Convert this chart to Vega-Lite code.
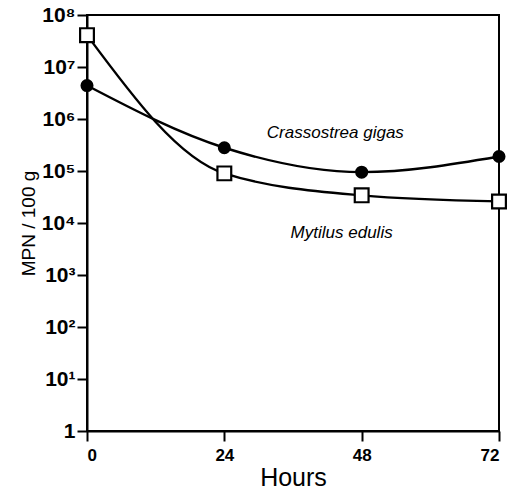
{
  "$schema": "https://vega.github.io/schema/vega-lite/v6.json",
  "autosize": {"type": "none"},
  "width": 412,
  "height": 416,
  "padding": {"left": 87, "top": 15, "right": 21, "bottom": 68},
  "background": "white",
  "view": {"stroke": "black", "strokeWidth": 2},
  "config": {
    "font": "Liberation Sans",
    "axis": {
      "domainColor": "black", "domainWidth": 2, "tickColor": "black", "tickWidth": 2,
      "tickSize": 10, "labelColor": "black", "titleColor": "black", "grid": false,
      "labelFont": "Liberation Sans", "titleFont": "Liberation Sans", "titleFontWeight": "normal"
    }
  },
  "datasets": {
    "series": [
      {"species": "Mytilus edulis", "hours": 0, "mpn": 41000000},
      {"species": "Mytilus edulis", "hours": 24, "mpn": 90000},
      {"species": "Mytilus edulis", "hours": 48, "mpn": 34000},
      {"species": "Mytilus edulis", "hours": 72, "mpn": 26000},
      {"species": "Crassostrea gigas", "hours": 0, "mpn": 4400000},
      {"species": "Crassostrea gigas", "hours": 24, "mpn": 280000},
      {"species": "Crassostrea gigas", "hours": 48, "mpn": 95000},
      {"species": "Crassostrea gigas", "hours": 72, "mpn": 190000}
    ],
    "labels": [
      {"species": "Crassostrea gigas", "hours": 43.4, "mpn": 540000},
      {"species": "Mytilus edulis", "hours": 44.5, "mpn": 6500}
    ]
  },
  "layer": [
    {
      "data": {"name": "series"},
      "mark": {"type": "line", "interpolate": "monotone", "color": "black", "strokeWidth": 2.4, "clip": false},
      "encoding": {
        "x": {"field": "hours", "type": "quantitative",
          "scale": {"domain": [0, 72], "nice": false},
          "axis": {"values": [0, 24, 48, 72], "title": "Hours", "titleFontSize": 25, "labelFontSize": 17, "labelFontWeight": "bold", "labelPadding": 6, "titlePadding": 2}},
        "y": {"field": "mpn", "type": "quantitative",
          "scale": {"type": "log", "domain": [1, 100000000], "nice": false},
          "axis": {"values": [1, 10, 100, 1000, 10000, 100000, 1000000, 10000000, 100000000],
            "labelExpr": "datum.value == 1 ? '1' : '10' + ['','¹','²','³','⁴','⁵','⁶','⁷','⁸'][round(log(datum.value)/LN10)]",
            "title": "MPN / 100 g", "titleFontSize": 19, "labelFontSize": 21, "labelFontWeight": "bold", "labelPadding": 2, "titlePadding": 3}},
        "detail": {"field": "species"}
      }
    },
    {
      "data": {"name": "series"},
      "transform": [{"filter": "datum.species == 'Mytilus edulis'"}],
      "mark": {"type": "point", "shape": "square", "size": 190, "filled": true, "fill": "white", "stroke": "black", "strokeWidth": 2.2, "opacity": 1, "clip": false},
      "encoding": {
        "x": {"field": "hours", "type": "quantitative"},
        "y": {"field": "mpn", "type": "quantitative"}
      }
    },
    {
      "data": {"name": "series"},
      "transform": [{"filter": "datum.species == 'Crassostrea gigas'"}],
      "mark": {"type": "circle", "size": 170, "color": "black", "opacity": 1, "clip": false},
      "encoding": {
        "x": {"field": "hours", "type": "quantitative"},
        "y": {"field": "mpn", "type": "quantitative"}
      }
    },
    {
      "data": {"name": "labels"},
      "mark": {"type": "text", "fontStyle": "italic", "fontSize": 17, "color": "black", "align": "center", "baseline": "middle"},
      "encoding": {
        "x": {"field": "hours", "type": "quantitative"},
        "y": {"field": "mpn", "type": "quantitative"},
        "text": {"field": "species"}
      }
    }
  ]
}
